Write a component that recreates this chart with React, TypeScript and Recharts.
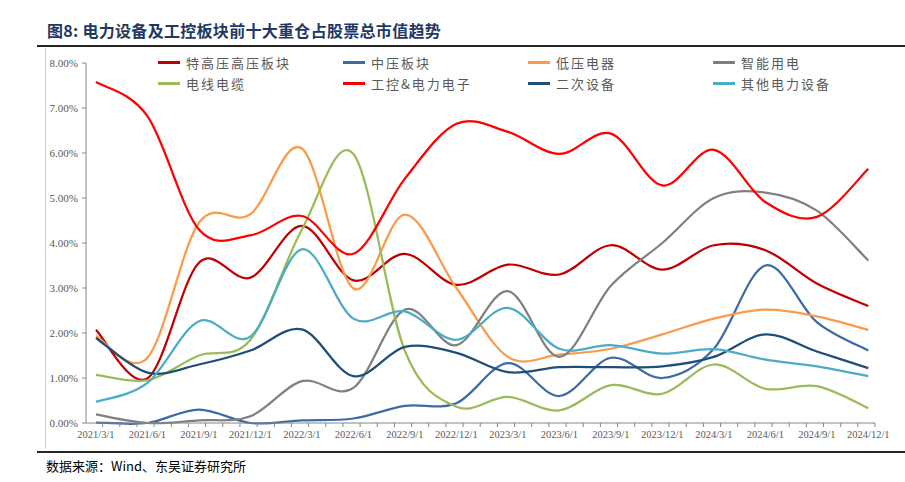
import React from 'react'
import { LineChart, Line, XAxis, YAxis } from 'recharts'

// quarter labels on the x axis
const quarters = [
  '2021/3/1', '2021/6/1', '2021/9/1', '2021/12/1',
  '2022/3/1', '2022/6/1', '2022/9/1', '2022/12/1',
  '2023/3/1', '2023/6/1', '2023/9/1', '2023/12/1',
  '2024/3/1', '2024/6/1', '2024/9/1', '2024/12/1',
]

// values in % of total market value
const uhv = [2.07, 0.99, 3.56, 3.23, 4.38, 3.17, 3.76, 3.07, 3.52, 3.3, 3.95, 3.41, 3.95, 3.84, 3.1, 2.6]
const mediumVoltage = [0.01, 0.0, 0.3, 0.0, 0.06, 0.1, 0.38, 0.44, 1.33, 0.6, 1.45, 1.0, 1.65, 3.5, 2.24, 1.61]
const lowVoltage = [1.93, 1.45, 4.45, 4.64, 6.1, 2.99, 4.63, 3.0, 1.47, 1.52, 1.65, 1.97, 2.32, 2.52, 2.37, 2.07]
const smartPower = [0.19, 0.0, 0.06, 0.15, 0.93, 0.78, 2.52, 1.73, 2.93, 1.47, 3.05, 4.0, 5.0, 5.12, 4.72, 3.61]
const cable = [1.07, 0.95, 1.5, 1.85, 4.3, 5.98, 1.6, 0.36, 0.58, 0.28, 0.84, 0.65, 1.3, 0.76, 0.82, 0.33]
const industrialCtrl = [7.58, 6.82, 4.3, 4.17, 4.6, 3.76, 5.43, 6.65, 6.47, 5.98, 6.43, 5.28, 6.07, 4.91, 4.58, 5.65]
const secondary = [1.89, 1.12, 1.3, 1.61, 2.08, 1.04, 1.69, 1.56, 1.13, 1.24, 1.24, 1.26, 1.47, 1.97, 1.59, 1.22]
const otherEquip = [0.47, 0.89, 2.26, 1.92, 3.86, 2.32, 2.48, 1.85, 2.56, 1.65, 1.73, 1.54, 1.64, 1.41, 1.26, 1.04]

const yTicks = [0, 1, 2, 3, 4, 5, 6, 7, 8]

const series = [
  { key: 'uhv', name: '特高压高压板块', color: '#C00000', values: uhv },
  { key: 'mv', name: '中压板块', color: '#3D6BA5', values: mediumVoltage },
  { key: 'lv', name: '低压电器', color: '#F99B4C', values: lowVoltage },
  { key: 'smart', name: '智能用电', color: '#808080', values: smartPower },
  { key: 'cable', name: '电线电缆', color: '#9BBB59', values: cable },
  { key: 'ctrl', name: '工控&电力电子', color: '#FF0000', values: industrialCtrl },
  { key: 'sec', name: '二次设备', color: '#1F4E79', values: secondary },
  { key: 'other', name: '其他电力设备', color: '#4BACC6', values: otherEquip },
]

// x is in months from the first quarter; minor ticks are monthly
const TICK_SHIFT = 0.39
const monthTicks = Array.from({ length: 46 }, (_, k) => k + TICK_SHIFT)

const data = quarters.map((q, i) => {
  const row: Record<string, number | string> = { m: i * 3, label: q }
  series.forEach((s) => {
    row[s.key] = s.values[i]
  })
  return row
})

// excel style smoothed line (catmull-rom as bezier)
const excelSmooth = (context: any) => {
  let pts: number[][] = []
  return {
    areaStart() {},
    areaEnd() {},
    lineStart() {
      pts = []
    },
    point(x: number, y: number) {
      pts.push([+x, +y])
    },
    lineEnd() {
      const n = pts.length
      if (!n) return
      context.moveTo(pts[0][0], pts[0][1])
      for (let i = 0; i < n - 1; i++) {
        const p0 = pts[i === 0 ? 0 : i - 1]
        const p1 = pts[i]
        const p2 = pts[i + 1]
        const p3 = pts[i + 2 < n ? i + 2 : n - 1]
        context.bezierCurveTo(
          p1[0] + (p2[0] - p0[0]) / 6,
          p1[1] + (p2[1] - p0[1]) / 6,
          p2[0] - (p3[0] - p1[0]) / 6,
          p2[1] - (p3[1] - p1[1]) / 6,
          p2[0],
          p2[1]
        )
      }
    },
  }
}

const XTick = (props: any) => {
  const { x, y, payload } = props
  const k = Math.round(payload.value - TICK_SHIFT)
  if (k % 3 !== 0) return <g />
  return (
    <text
      x={x - 6.7}
      y={y}
      dy={9}
      textAnchor="middle"
      fontSize={10.5}
      fill="#595959"
      fontFamily="'Liberation Serif', serif"
    >
      {quarters[k / 3]}
    </text>
  )
}

const legendCols = [158, 343, 528, 713]
const legendRows = [62, 83]

export default function App() {
  return (
    <div
      style={{
        position: 'absolute',
        left: 0,
        top: 0,
        width: 905,
        height: 482,
        background: '#fff',
        overflow: 'hidden',
      }}
    >
      <div
        style={{
          position: 'absolute',
          left: 47,
          top: 19,
          fontSize: 16,
          lineHeight: '22px',
          fontWeight: 'bold',
          letterSpacing: 0.3,
          color: '#1F3864',
          fontFamily: "'Noto Sans CJK SC', sans-serif",
          whiteSpace: 'nowrap',
        }}
      >
        图8:&nbsp;电力设备及工控板块前十大重仓占股票总市值趋势
      </div>
      <div style={{ position: 'absolute', left: 37, top: 45, width: 868, height: 2, background: '#262626' }} />
      <div style={{ position: 'absolute', left: 45, top: 48, width: 1, height: 401, background: '#D0D0D0' }} />
      <div style={{ position: 'absolute', left: 37, top: 451, width: 868, height: 2, background: '#262626' }} />
      <div
        style={{
          position: 'absolute',
          left: 46,
          top: 456,
          fontSize: 13,
          lineHeight: '20px',
          color: '#000',
          fontFamily: "'Noto Sans CJK SC', sans-serif",
          whiteSpace: 'nowrap',
        }}
      >
        数据来源：Wind、东吴证券研究所
      </div>

      <LineChart
        width={905}
        height={482}
        data={data}
        margin={{ top: 63, right: 30, bottom: 29, left: 0 }}
        style={{ position: 'absolute', left: 0, top: 0 }}
      >
        <XAxis
          dataKey="m"
          type="number"
          domain={[-0.58, 45 + TICK_SHIFT]}
          ticks={monthTicks}
          interval={0}
          allowDataOverflow
          height={30}
          tickSize={4}
          tick={XTick}
          axisLine={{ stroke: '#868686' }}
          tickLine={{ stroke: '#868686' }}
        />
        <YAxis
          type="number"
          domain={[0, 8]}
          ticks={yTicks}
          interval={0}
          width={86}
          tickSize={4}
          tickMargin={4}
          tickFormatter={(v: number) => v.toFixed(2) + '%'}
          tick={{ fontSize: 11, fill: '#595959', fontFamily: "'Liberation Serif', serif" }}
          axisLine={{ stroke: '#868686' }}
          tickLine={{ stroke: '#868686' }}
        />
        {series.map((s) => (
          <Line
            key={s.key}
            dataKey={s.key}
            name={s.name}
            stroke={s.color}
            strokeWidth={2.25}
            dot={false}
            activeDot={false}
            type={excelSmooth as any}
            isAnimationActive={false}
          />
        ))}
      </LineChart>

      {series.map((s, i) => {
        const left = legendCols[i % 4]
        const top = legendRows[Math.floor(i / 4)]
        return (
          <div
            key={s.key}
            style={{
              position: 'absolute',
              left,
              top: top - 10,
              height: 20,
              display: 'flex',
              alignItems: 'center',
              whiteSpace: 'nowrap',
            }}
          >
            <div style={{ width: 22, height: 3, background: s.color, marginRight: 6 }} />
            <span
              style={{
                fontSize: 13,
                letterSpacing: 2,
                color: '#595959',
                fontFamily: "'Noto Sans CJK SC', sans-serif",
              }}
            >
              {s.name}
            </span>
          </div>
        )
      })}
    </div>
  )
}
